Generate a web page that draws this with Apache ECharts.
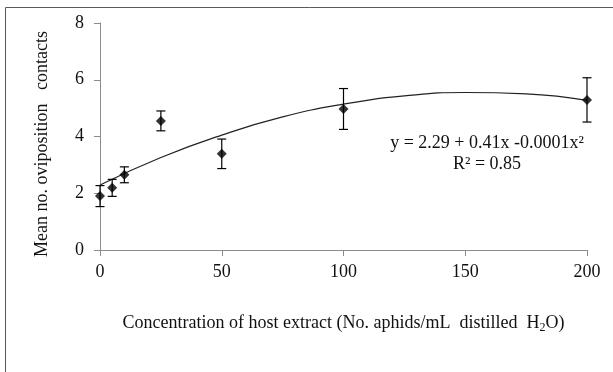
<!DOCTYPE html>
<html>
<head>
<meta charset="utf-8">
<script src="https://cdn.jsdelivr.net/npm/echarts@6/dist/echarts.min.js"></script>
<style>
html, body { margin: 0; padding: 0; background: #fff; }
#chartDom { width: 613px; height: 372px; }
</style>
</head>
<body>
<div id="chartDom"></div>
<script>
// observed means with error bars
const concentration = [0, 5, 10, 25, 50, 100, 200];
const meanContacts = [1.90, 2.19, 2.65, 4.55, 3.39, 4.97, 5.29];
const errorSize = [0.37, 0.30, 0.28, 0.35, 0.52, 0.72, 0.78];
// polynomial trendline
const trendX = [0, 25, 50, 75, 100, 125, 150, 175, 200];
const trendY = [2.29, 3.26, 4.05, 4.69, 5.14, 5.43, 5.55, 5.50, 5.27];
const eqLines = ['y = 2.29 + 0.41x -0.0001x²', 'R² = 0.85'];

const font = '"Liberation Serif", "Times New Roman", serif';
const chart = echarts.init(document.getElementById('chartDom'), null, { renderer: 'canvas' });

const points = concentration.map((x, i) => [x, meanContacts[i]]);
const bars = concentration.map((x, i) => [x, meanContacts[i] - errorSize[i], meanContacts[i] + errorSize[i]]);
const trend = trendX.map((x, i) => [x, trendY[i]]);

const option = {
  animation: false,
  backgroundColor: '#fff',
  grid: { left: 100, right: 26, top: 23, bottom: 122 },
  xAxis: {
    type: 'value',
    min: 0, max: 200, interval: 50,
    name: 'Concentration of host extract (No. aphids/mL  distilled  H{sub|2}O)',
    nameLocation: 'middle',
    nameGap: 62,
    nameTextStyle: {
      fontFamily: font, fontSize: 18, color: '#111', lineHeight: 22,
      rich: { sub: { fontFamily: font, fontSize: 12, color: '#111', verticalAlign: 'bottom' } }
    },
    axisLine: { lineStyle: { color: '#8c8c8c' } },
    axisTick: { inside: false, length: 6, lineStyle: { color: '#8c8c8c' } },
    axisLabel: { fontFamily: font, fontSize: 18, color: '#111', margin: 13 },
    splitLine: { show: false }
  },
  yAxis: {
    type: 'value',
    min: 0, max: 8, interval: 2,
    name: 'Mean no. oviposition   contacts',
    nameLocation: 'middle',
    nameGap: 49,
    nameTextStyle: { fontFamily: font, fontSize: 18, color: '#111', padding: [0, 15, 0, 0] },
    axisLine: { show: true, lineStyle: { color: '#8c8c8c' } },
    axisTick: { show: true, length: 6, lineStyle: { color: '#8c8c8c' } },
    axisLabel: { fontFamily: font, fontSize: 18, color: '#111', margin: 16 },
    splitLine: { show: false }
  },
  graphic: [
    {
      type: 'rect', silent: true,
      shape: { x: 5.5, y: 7.5, width: 700, height: 500 },
      style: { fill: 'none', stroke: '#5a5a5a', lineWidth: 1 }
    },
    {
      type: 'text', x: 487, y: 143, silent: true,
      style: { text: eqLines[0], font: '18px ' + font, fill: '#111', textAlign: 'center', textVerticalAlign: 'middle' }
    },
    {
      type: 'text', x: 487, y: 164, silent: true,
      style: { text: eqLines[1], font: '18px ' + font, fill: '#111', textAlign: 'center', textVerticalAlign: 'middle' }
    }
  ],
  series: [
    {
      type: 'custom',
      data: bars,
      z: 3,
      renderItem: function (params, api) {
        const x = api.value(0);
        const lo = api.coord([x, api.value(1)]);
        const hi = api.coord([x, api.value(2)]);
        const cap = 4.5;
        const st = { stroke: '#000', lineWidth: 1.2 };
        return {
          type: 'group',
          children: [
            { type: 'line', shape: { x1: lo[0], y1: lo[1], x2: hi[0], y2: hi[1] }, style: st },
            { type: 'line', shape: { x1: lo[0] - cap, y1: lo[1], x2: lo[0] + cap, y2: lo[1] }, style: st },
            { type: 'line', shape: { x1: hi[0] - cap, y1: hi[1], x2: hi[0] + cap, y2: hi[1] }, style: st }
          ]
        };
      }
    },
    {
      type: 'line',
      data: trend,
      smooth: true,
      showSymbol: false,
      z: 2,
      lineStyle: { color: '#222', width: 1.2 }
    },
    {
      type: 'scatter',
      data: points,
      symbol: 'diamond',
      symbolSize: 10,
      z: 4,
      itemStyle: { color: '#000' }
    }
  ]
};
chart.setOption(option);
</script>
</body>
</html>
